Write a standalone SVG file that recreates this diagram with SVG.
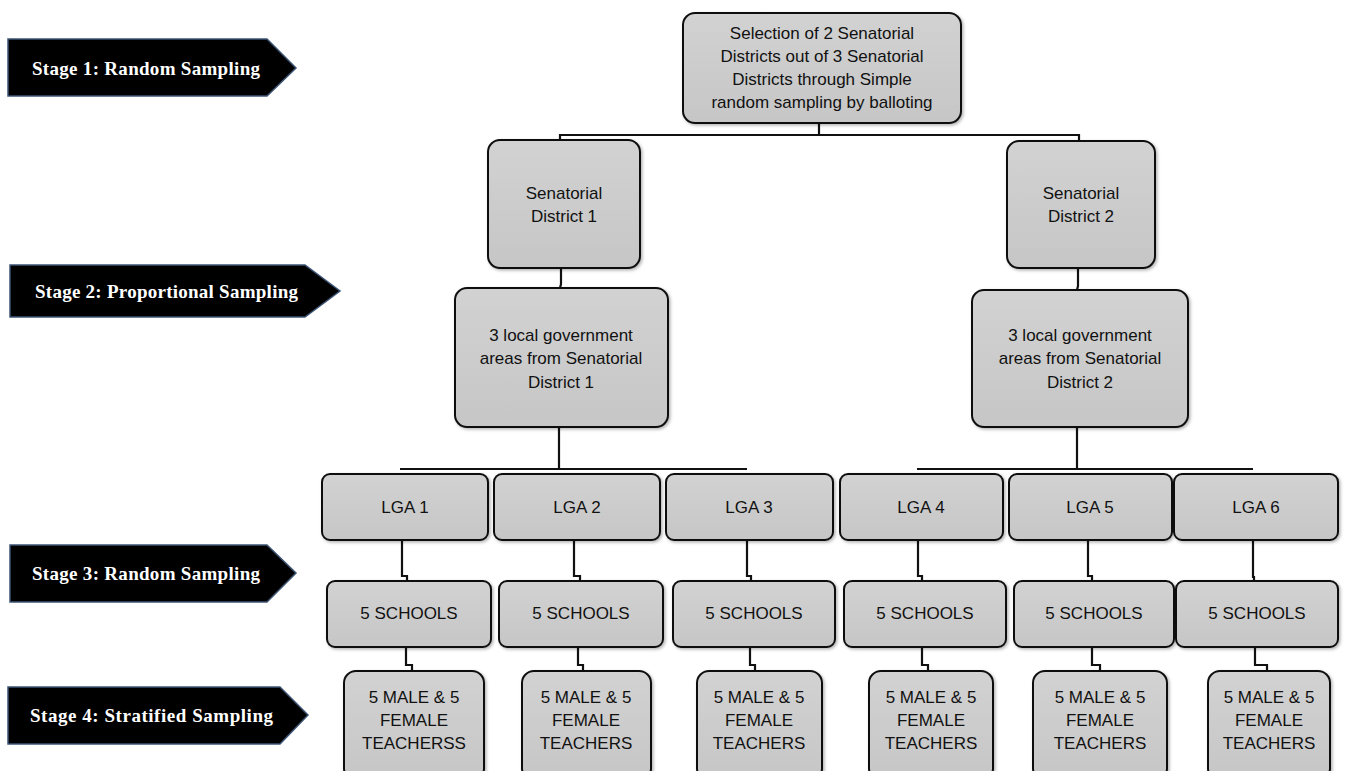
<svg xmlns="http://www.w3.org/2000/svg" width="1351" height="771" viewBox="0 0 1351 771">
<defs>
<filter id="sh" x="-10%" y="-10%" width="130%" height="130%">
<feDropShadow dx="1.5" dy="1.5" stdDeviation="1.5" flood-color="#000" flood-opacity="0.3"/>
</filter>
<linearGradient id="g" x1="0" y1="0" x2="0" y2="1">
<stop offset="0" stop-color="#d2d2d2"/>
<stop offset="1" stop-color="#c6c6c6"/>
</linearGradient>
</defs>
<style>
.box{fill:url(#g);stroke:#111;stroke-width:2;filter:url(#sh)}
.t{font-family:"Liberation Sans",Arial,sans-serif;font-size:17px;fill:#111;text-anchor:middle}
.stage{fill:#000;stroke:#3d5473;stroke-width:1.5}
.st{font-family:"Liberation Serif","Times New Roman",serif;font-weight:bold;font-size:19px;fill:#fff}
.c{fill:none;stroke:#111;stroke-width:2.2}
</style>
<rect width="1351" height="771" fill="#fff"/>

<g id="stage1"><polygon class="stage" points="8,39 267,39 296,68 267,96 8,96"/><text class="st" x="32" y="75" textLength="228">Stage 1: Random Sampling</text></g>
<g id="stage2"><polygon class="stage" points="10,265 305,265 340,291 305,317 10,317"/><text class="st" x="35" y="298" textLength="263">Stage 2: Proportional Sampling</text></g>
<g id="stage3"><polygon class="stage" points="10,545 267,545 296,573 267,602 10,602"/><text class="st" x="32" y="580" textLength="228">Stage 3: Random Sampling</text></g>
<g id="stage4"><polygon class="stage" points="8,687 280,687 308,715 280,744 8,744"/><text class="st" x="30" y="722" textLength="243">Stage 4: Stratified Sampling</text></g>

<g id="connectors">
<path class="c" d="M819,123 V135"/>
<path class="c" d="M560,141 V135 H1079 V141"/>
<path class="c" d="M561,268 V284 L560,288"/>
<path class="c" d="M1078,268 V286 L1077,290"/>
<path class="c" d="M559,427 V469"/>
<path class="c" d="M400,469 H747"/>
<path class="c" d="M1077,427 V469"/>
<path class="c" d="M917,469 H1253"/>
<path class="c" d="M402,540 V576 H407 V581"/>
<path class="c" d="M574,540 V576 H580 V581"/>
<path class="c" d="M747,540 V576 H751 V581"/>
<path class="c" d="M918,540 V576 H922 V581"/>
<path class="c" d="M1088,540 V576 H1092 V581"/>
<path class="c" d="M1253,540 V577 H1254 V581"/>
<path class="c" d="M406,647 V665 H412 V671"/>
<path class="c" d="M578,647 V665 H583 V671"/>
<path class="c" d="M750,647 V665 H755 V671"/>
<path class="c" d="M922,647 V665 H928 V671"/>
<path class="c" d="M1092,647 V665 H1100 V671"/>
<path class="c" d="M1255,647 V665 H1267 V671"/>
</g>

<g id="top"><rect class="box" x="683" y="13" width="278" height="110" rx="12"/>
<text class="t" x="822" y="39">Selection of 2 Senatorial</text>
<text class="t" x="822" y="62">Districts out of 3 Senatorial</text>
<text class="t" x="822" y="85">Districts through Simple</text>
<text class="t" x="822" y="108">random sampling by balloting</text></g>

<g id="sd1"><rect class="box" x="488" y="140" width="152" height="128" rx="12"/>
<text class="t" x="564" y="199">Senatorial</text><text class="t" x="564" y="222">District 1</text></g>
<g id="sd2"><rect class="box" x="1007" y="141" width="148" height="127" rx="12"/>
<text class="t" x="1081" y="199">Senatorial</text><text class="t" x="1081" y="222">District 2</text></g>

<g id="lgas1"><rect class="box" x="455" y="288" width="213" height="139" rx="12"/>
<text class="t" x="561" y="341">3 local government</text><text class="t" x="561" y="364">areas from Senatorial</text><text class="t" x="561" y="388">District 1</text></g>
<g id="lgas2"><rect class="box" x="972" y="290" width="216" height="137" rx="12"/>
<text class="t" x="1080" y="341">3 local government</text><text class="t" x="1080" y="364">areas from Senatorial</text><text class="t" x="1080" y="388">District 2</text></g>

<g id="lga1"><rect class="box" x="322" y="474" width="166" height="66" rx="8"/><text class="t" x="405" y="513">LGA 1</text></g>
<g id="lga2"><rect class="box" x="494" y="474" width="166" height="66" rx="8"/><text class="t" x="577" y="513">LGA 2</text></g>
<g id="lga3"><rect class="box" x="666" y="474" width="167" height="66" rx="8"/><text class="t" x="749" y="513">LGA 3</text></g>
<g id="lga4"><rect class="box" x="840" y="474" width="163" height="66" rx="8"/><text class="t" x="921" y="513">LGA 4</text></g>
<g id="lga5"><rect class="box" x="1009" y="474" width="163" height="66" rx="8"/><text class="t" x="1090" y="513">LGA 5</text></g>
<g id="lga6"><rect class="box" x="1174" y="474" width="164" height="66" rx="8"/><text class="t" x="1256" y="513">LGA 6</text></g>

<g id="sch1"><rect class="box" x="327" y="581" width="164" height="66" rx="8"/><text class="t" x="409" y="619">5 SCHOOLS</text></g>
<g id="sch2"><rect class="box" x="499" y="581" width="164" height="66" rx="8"/><text class="t" x="581" y="619">5 SCHOOLS</text></g>
<g id="sch3"><rect class="box" x="673" y="581" width="162" height="66" rx="8"/><text class="t" x="754" y="619">5 SCHOOLS</text></g>
<g id="sch4"><rect class="box" x="844" y="581" width="162" height="66" rx="8"/><text class="t" x="925" y="619">5 SCHOOLS</text></g>
<g id="sch5"><rect class="box" x="1014" y="581" width="160" height="66" rx="8"/><text class="t" x="1094" y="619">5 SCHOOLS</text></g>
<g id="sch6"><rect class="box" x="1176" y="581" width="162" height="66" rx="8"/><text class="t" x="1257" y="619">5 SCHOOLS</text></g>

<g id="tch1"><rect class="box" x="344" y="671" width="140" height="110" rx="12"/><text class="t" x="414" y="703">5 MALE &amp; 5</text><text class="t" x="414" y="726">FEMALE</text><text class="t" x="414" y="749">TEACHERSS</text></g>
<g id="tch2"><rect class="box" x="522" y="671" width="129" height="110" rx="12"/><text class="t" x="586" y="703">5 MALE &amp; 5</text><text class="t" x="586" y="726">FEMALE</text><text class="t" x="586" y="749">TEACHERS</text></g>
<g id="tch3"><rect class="box" x="697" y="671" width="125" height="110" rx="12"/><text class="t" x="759" y="703">5 MALE &amp; 5</text><text class="t" x="759" y="726">FEMALE</text><text class="t" x="759" y="749">TEACHERS</text></g>
<g id="tch4"><rect class="box" x="869" y="671" width="124" height="110" rx="12"/><text class="t" x="931" y="703">5 MALE &amp; 5</text><text class="t" x="931" y="726">FEMALE</text><text class="t" x="931" y="749">TEACHERS</text></g>
<g id="tch5"><rect class="box" x="1033" y="671" width="134" height="110" rx="12"/><text class="t" x="1100" y="703">5 MALE &amp; 5</text><text class="t" x="1100" y="726">FEMALE</text><text class="t" x="1100" y="749">TEACHERS</text></g>
<g id="tch6"><rect class="box" x="1208" y="671" width="122" height="110" rx="12"/><text class="t" x="1269" y="703">5 MALE &amp; 5</text><text class="t" x="1269" y="726">FEMALE</text><text class="t" x="1269" y="749">TEACHERS</text></g>
</svg>
